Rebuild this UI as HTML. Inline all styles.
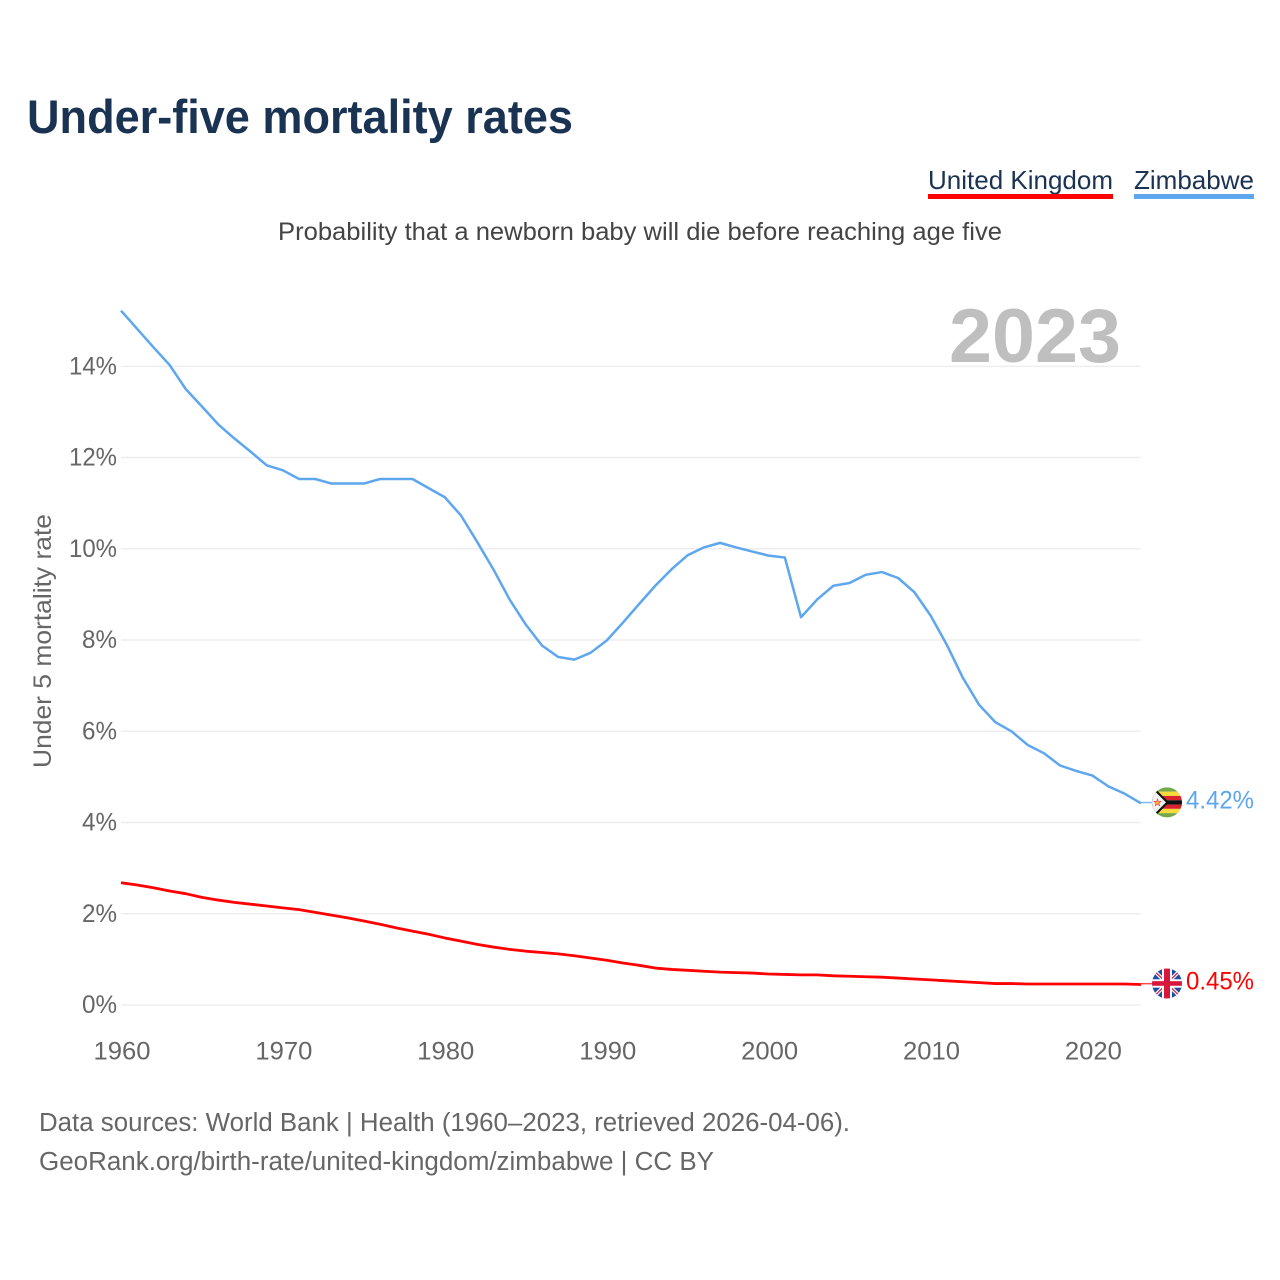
<!DOCTYPE html>
<html lang="en">
<head>
<meta charset="utf-8">
<title>Under-five mortality rates</title>
<style>
  html, body { margin: 0; padding: 0; background: #fff; }
  svg { display: block; font-family: "Liberation Sans", sans-serif; }
</style>
</head>
<body>
<svg id="chart" xmlns="http://www.w3.org/2000/svg" width="1280" height="1280" viewBox="0 0 1280 1280">
  <defs>
    <clipPath id="flag-clip-zw"><circle cx="0" cy="0" r="15"/></clipPath>
    <clipPath id="flag-clip-uk"><circle cx="0" cy="0" r="15"/></clipPath>
  </defs>
  <rect width="1280" height="1280" fill="#ffffff"/>

  <text x="27" y="133" font-size="47" font-weight="700" fill="#1a3353" textLength="546" lengthAdjust="spacingAndGlyphs">Under-five mortality rates</text>

  <g>
    <g>
      <text x="928" y="189" font-size="26" fill="#1a3353" textLength="185" lengthAdjust="spacingAndGlyphs">United Kingdom</text>
      <rect x="928" y="194" width="185" height="5" fill="#ff0000"/>
    </g>
    <g>
      <text x="1134" y="189" font-size="26" fill="#1a3353" textLength="120" lengthAdjust="spacingAndGlyphs">Zimbabwe</text>
      <rect x="1134" y="194" width="120" height="5" fill="#5ea6ee"/>
    </g>
  </g>

  <text x="278" y="240" font-size="25" fill="#444444" textLength="724" lengthAdjust="spacingAndGlyphs">Probability that a newborn baby will die before reaching age five</text>

  <text x="949" y="362" font-size="76" font-weight="700" fill="#bfbfbf" textLength="172" lengthAdjust="spacingAndGlyphs">2023</text>

  <text transform="translate(51 768) rotate(-90)" x="0" y="0" font-size="25" fill="#666666" textLength="254" lengthAdjust="spacingAndGlyphs">Under 5 mortality rate</text>

  <g id="grid"></g>
  <g id="y-ticks"></g>
  <g id="x-ticks"></g>
  <g id="series"></g>

  <g id="flag-zw">
    <g clip-path="url(#flag-clip-zw)">
      <rect x="-16" y="-16" width="32" height="32" fill="#f1f1f1"/>
      <rect x="-16" y="-15" width="32" height="4.3" fill="#74a84a"/>
      <rect x="-16" y="-10.7" width="32" height="4.3" fill="#f6d93a"/>
      <rect x="-16" y="-6.4" width="32" height="4.3" fill="#d8232f"/>
      <rect x="-16" y="-2.1" width="32" height="4.3" fill="#111111"/>
      <rect x="-16" y="2.2" width="32" height="4.3" fill="#d8232f"/>
      <rect x="-16" y="6.5" width="32" height="4.3" fill="#f6d93a"/>
      <rect x="-16" y="10.8" width="32" height="4.3" fill="#74a84a"/>
      <polygon points="-16,-18 2,0 -16,18" fill="#111111"/>
      <polygon points="-16,-15 -1,0 -16,15" fill="#f1f1f1"/>
      <polygon points="-9.5,-3.5 -8.6,-0.9 -6,-1 -8,0.8 -7.2,3.4 -9.5,1.9 -11.8,3.4 -11,0.8 -13,-1 -10.4,-0.9" fill="#f2b33a" stroke="#e8414a" stroke-width="0.6"/>
    </g>
  </g>

  <g id="flag-uk">
    <g clip-path="url(#flag-clip-uk)">
      <rect x="-16" y="-16" width="32" height="32" fill="#1f4ea3"/>
      <line x1="-16" y1="-16" x2="16" y2="16" stroke="#ffffff" stroke-width="3.6"/>
      <line x1="16" y1="-16" x2="-16" y2="16" stroke="#ffffff" stroke-width="3.6"/>
      <line x1="-16" y1="-16" x2="16" y2="16" stroke="#d8173c" stroke-width="1.2"/>
      <line x1="16" y1="-16" x2="-16" y2="16" stroke="#d8173c" stroke-width="1.2"/>
      <rect x="-16" y="-4.2" width="32" height="8.4" fill="#ffffff"/>
      <rect x="-5" y="-16" width="10" height="32" fill="#ffffff"/>
      <rect x="-16" y="-2.3" width="32" height="4.6" fill="#d8173c"/>
      <rect x="-3" y="-16" width="6" height="32" fill="#d8173c"/>
    </g>
  </g>

  <g id="end-labels"></g>

  <text x="39" y="1131" font-size="25.5" fill="#666666" textLength="811" lengthAdjust="spacingAndGlyphs">Data sources: World Bank | Health (1960–2023, retrieved 2026-04-06).</text>
  <text x="39" y="1170" font-size="25.5" fill="#666666" textLength="675" lengthAdjust="spacingAndGlyphs">GeoRank.org/birth-rate/united-kingdom/zimbabwe | CC BY</text>
</svg>

<script>
const startYear = 1960;
const yTickValues = [0, 2, 4, 6, 8, 10, 12, 14];
const yTickLabels = ['0%', '2%', '4%', '6%', '8%', '10%', '12%', '14%'];
const xTickYears = [1960, 1970, 1980, 1990, 2000, 2010, 2020];
const xTickLabels = ['1960', '1970', '1980', '1990', '2000', '2010', '2020'];
const zimbabweValues = [
  15.22, 14.82, 14.42, 14.03, 13.50, 13.12, 12.73, 12.42, 12.13, 11.83,
  11.72, 11.53, 11.53, 11.43, 11.43, 11.43, 11.53, 11.53, 11.53, 11.33,
  11.13, 10.73, 10.15, 9.55, 8.89, 8.34, 7.88, 7.63, 7.57, 7.72,
  7.99, 8.38, 8.79, 9.19, 9.55, 9.86, 10.03, 10.13, 10.03, 9.94,
  9.85, 9.81, 8.50, 8.89, 9.19, 9.25, 9.43, 9.49, 9.36, 9.05,
  8.54, 7.90, 7.17, 6.58, 6.20, 6.00, 5.70, 5.52, 5.25, 5.13,
  5.03, 4.79, 4.63, 4.42
];
const ukValues = [
  2.68, 2.63, 2.57, 2.50, 2.44, 2.36, 2.30, 2.25, 2.21, 2.17,
  2.13, 2.09, 2.03, 1.97, 1.91, 1.84, 1.77, 1.69, 1.62, 1.55,
  1.47, 1.40, 1.33, 1.27, 1.22, 1.18, 1.15, 1.12, 1.08, 1.03,
  0.98, 0.92, 0.87, 0.81, 0.78, 0.76, 0.74, 0.72, 0.71, 0.70,
  0.68, 0.67, 0.66, 0.66, 0.64, 0.63, 0.62, 0.61, 0.59, 0.57,
  0.55, 0.53, 0.51, 0.49, 0.47, 0.47, 0.46, 0.46, 0.46, 0.46,
  0.46, 0.46, 0.46, 0.45
];

const NS = 'http://www.w3.org/2000/svg';
const xScale = function (year) { return 121 + (year - startYear) * (1020 / 63); };
const yScale = function (value) { return 1005 - value * 45.62; };

function make(tag, parent, attrs, text) {
  const el = document.createElementNS(NS, tag);
  Object.keys(attrs).forEach(function (k) { el.setAttribute(k, attrs[k]); });
  if (text !== undefined) { el.textContent = text; }
  parent.appendChild(el);
  return el;
}

const gridGroup = document.getElementById('grid');
const yTickGroup = document.getElementById('y-ticks');
yTickValues.forEach(function (value, i) {
  const gridLine = make('line', gridGroup, { x1: 121, x2: 1141, y1: yScale(value), y2: yScale(value), stroke: '#eeeeee', 'stroke-width': 1.5 });
  
  
  const label = yTickLabels[i];
  const width = label.length === 3 ? 48 : 35;
  const tick = make('text', yTickGroup, { x: 117 - width, y: yScale(value) + 8, 'font-size': 25, fill: '#666666', textLength: width, lengthAdjust: 'spacingAndGlyphs' }, label);
  
  
});

const xTickGroup = document.getElementById('x-ticks');
xTickYears.forEach(function (year, i) {
  const tick = make('text', xTickGroup, { x: xScale(year) - 27.5, y: 1059.5, 'font-size': 25, fill: '#666666', textLength: 57, lengthAdjust: 'spacingAndGlyphs' }, xTickLabels[i]);
  
  
});

function linePath(values) {
  return values.map(function (v, i) {
    return (i ? 'L' : 'M') + xScale(startYear + i).toFixed(2) + ' ' + yScale(v).toFixed(2);
  }).join(' ');
}

const seriesGroup = document.getElementById('series');
const labelGroup = document.getElementById('end-labels');

const zwLine = make('path', seriesGroup, { d: linePath(zimbabweValues), fill: 'none', stroke: '#5ea6ee', 'stroke-width': 2.5, 'stroke-linejoin': 'round' });



const ukLine = make('path', seriesGroup, { d: linePath(ukValues), fill: 'none', stroke: '#ff0000', 'stroke-width': 2.8, 'stroke-linejoin': 'round' });



const zwLast = zimbabweValues[zimbabweValues.length - 1];
const ukLast = ukValues[ukValues.length - 1];

const zwStub = make('line', seriesGroup, { x1: 1141, x2: 1152, y1: yScale(zwLast) - 0.8, y2: yScale(zwLast) - 0.8, stroke: '#5ea6ee', 'stroke-width': 1.5, opacity: 0.8 });



const ukStub = make('line', seriesGroup, { x1: 1141, x2: 1152, y1: yScale(ukLast) - 0.8, y2: yScale(ukLast) - 0.8, stroke: '#ff0000', 'stroke-width': 1.5, opacity: 0.7 });



document.getElementById('flag-zw').setAttribute('transform', 'translate(1167 ' + (yScale(zwLast) - 1) + ')');
document.getElementById('flag-uk').setAttribute('transform', 'translate(1167 ' + (yScale(ukLast) - 1) + ')');

const zwLabel = make('text', labelGroup, { x: 1186, y: yScale(zwLast) + 5, 'font-size': 25, fill: '#5ea6ee', textLength: 68, lengthAdjust: 'spacingAndGlyphs' }, zwLast.toFixed(2) + '%');



const ukLabel = make('text', labelGroup, { x: 1186, y: yScale(ukLast) + 5, 'font-size': 25, fill: '#ff0000', textLength: 68, lengthAdjust: 'spacingAndGlyphs' }, ukLast.toFixed(2) + '%');


</script>
</body>
</html>
